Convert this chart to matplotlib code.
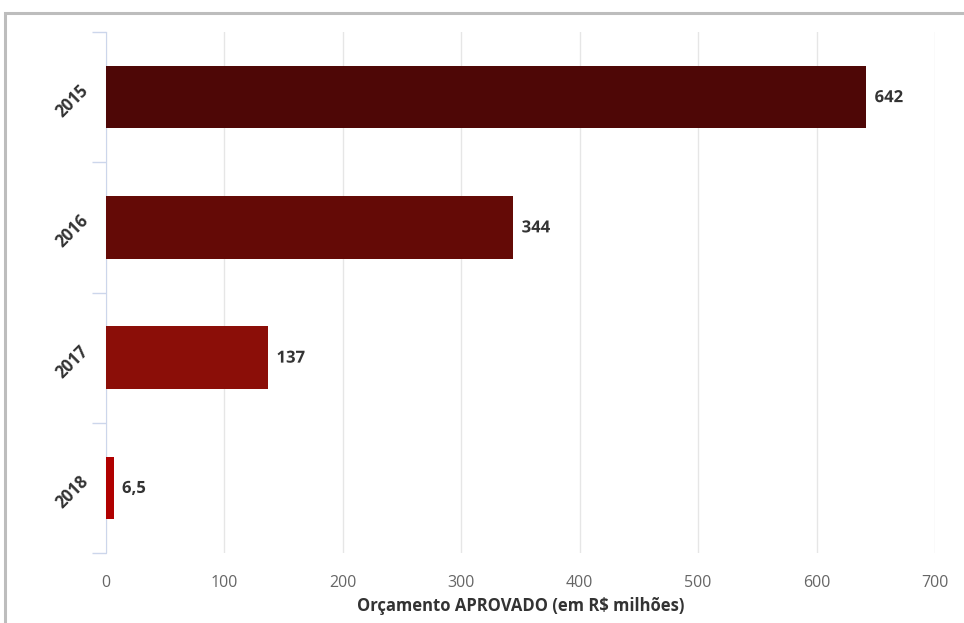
import matplotlib.pyplot as plt
from matplotlib.patches import Rectangle
from matplotlib.transforms import ScaledTranslation
import matplotlib.patheffects as pe

anos = ["2015", "2016", "2017", "2018"]
valores = [642, 344, 137, 6.5]
rotulos = ["642", "344", "137", "6,5"]
cores = ["#4e0706", "#640a06", "#8b0e08", "#b00000"]
xticks = [0, 100, 200, 300, 400, 500, 600, 700]

plt.rcParams['font.family'] = ['Open Sans', 'DejaVu Sans']

fig = plt.figure(figsize=(9.64, 6.23), dpi=100)
# grey frame around the chart
fig.patches.append(Rectangle((5 / 964, -0.1), 1.2, 1 - 13 / 623 + 0.1,
                             transform=fig.transFigure, fill=False,
                             edgecolor="#bdbdbd", linewidth=2.2))
ax = fig.add_axes([106 / 964, 1 - 553 / 623, (935 - 106) / 964, (553 - 32) / 623])

pos = list(range(len(anos)))
ax.barh(pos, valores, height=0.48, color=cores, zorder=3)
for p, v, r in zip(pos, valores, rotulos):
    ax.text(v + 7, p, r, va="center", ha="left", fontsize=12, fontweight="bold",
            color="#333333", zorder=4,
            path_effects=[pe.withStroke(linewidth=2, foreground="white")])

ax.set_xlim(0, 700)
ax.set_ylim(3.5, -0.5)
ax.set_xticks(xticks)
ax.set_xticklabels([str(t) for t in xticks], fontsize=11.5, color="#666666")
ax.tick_params(axis="x", length=0, pad=16)
ax.grid(axis="x", color="#e6e6e6", linewidth=1, zorder=0)

ax.set_yticks(pos)
ax.set_yticklabels(anos, rotation=45, fontsize=12, fontweight="bold", color="#333333",
                   va="center", ha="center")
ax.tick_params(axis="y", length=0, pad=24)
shift = ScaledTranslation(0, -4 / 100, fig.dpi_scale_trans)
for lbl in ax.get_yticklabels():
    lbl.set_transform(lbl.get_transform() + shift)
ax.set_yticks([-0.5, 0.5, 1.5, 2.5, 3.5], minor=True)
ax.tick_params(axis="y", which="minor", length=10, color="#ccd6eb", width=1)

for s in ["top", "right", "bottom"]:
    ax.spines[s].set_visible(False)
ax.spines["left"].set_color("#ccd6eb")

ax.set_xlabel("Orçamento APROVADO (em R$ milhões)", fontsize=12, fontweight="bold",
              color="#333333", labelpad=4)

fig.savefig("out.png", dpi=100)
